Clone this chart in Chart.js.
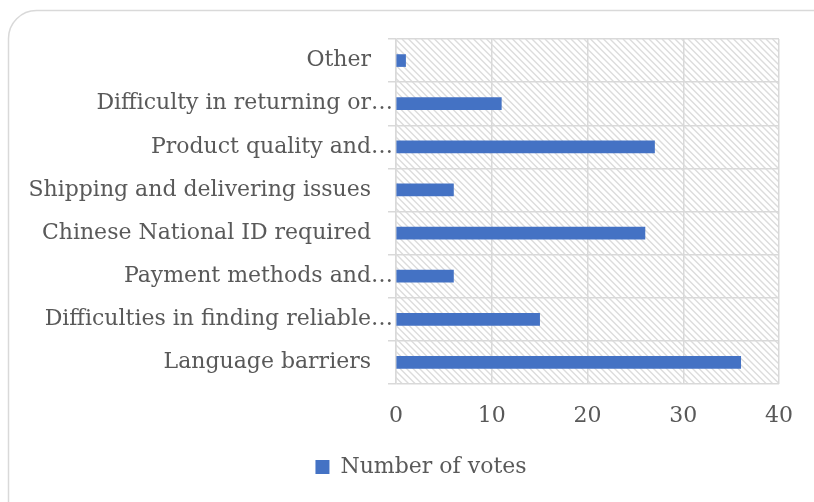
<!DOCTYPE html>
<html lang="en">
<head>
  <meta charset="UTF-8">
  <title>Number of votes</title>
  <script src="https://cdn.jsdelivr.net/npm/chart.js@4.4.0"></script>
  <style>
    html, body { margin: 0; padding: 0; background: #fff; }
    #wrap { width: 814px; height: 502px; position: relative; }
  </style>
</head>
<body>
  <div id="wrap"><canvas id="myChart"></canvas></div>
  <script>
    // categories, bottom to top
    const categories = [
      'Language barriers',
      'Difficulties in finding reliable…',
      'Payment methods and…',
      'Chinese National ID required',
      'Shipping and delivering issues',
      'Product quality and…',
      'Difficulty in returning or…',
      'Other'
    ];
    const votes = [36, 15, 6, 26, 6, 27, 11, 1];
    const xTicks = [0, 10, 20, 30, 40];

    const FONT = "'DejaVu Serif', serif";
    const TEXT = '#595959';
    const GRID = '#d9d9d9';

    // rounded frame + diagonal hatch behind the plot area
    const backdrop = {
      id: 'backdrop',
      beforeDraw(chart) {
        const c = chart.ctx;
        const a = chart.chartArea;

        // centre the legend on the whole frame, not on the padded area
        if (chart.legend) {
          chart.legend.left = 8;
          chart.legend.right = 834;
        }

        c.save();
        c.fillStyle = '#fff';
        c.fillRect(0, 0, chart.width, chart.height);
        c.beginPath();
        c.roundRect(8.5, 10.5, 840, 520, 28);
        c.strokeStyle = GRID;
        c.lineWidth = 1.5;
        c.stroke();

        c.beginPath();
        c.rect(a.left, a.top, a.right - a.left, a.bottom - a.top);
        c.clip();
        c.strokeStyle = '#dcdcdc';
        c.lineWidth = 1.4;
        const h = a.bottom - a.top;
        c.beginPath();
        for (let x = a.left - h; x < a.right; x += 6.5) {
          c.moveTo(x, a.top);
          c.lineTo(x + h, a.bottom);
        }
        c.stroke();
        c.restore();
      }
    };

    const ctx = document.getElementById('myChart').getContext('2d');
    new Chart(ctx, {
      type: 'bar',
      data: {
        labels: categories,
        datasets: [{
          label: 'Number of votes',
          data: votes,
          backgroundColor: '#4472C4',
          borderWidth: 0,
          barThickness: 12
        }]
      },
      options: {
        indexAxis: 'y',
        responsive: true,
        maintainAspectRatio: false,
        animation: false,
        layout: { padding: { left: 10, right: 35, top: 39, bottom: 14 } },
        plugins: {
          tooltip: { enabled: false },
          legend: {
            position: 'bottom',
            labels: {
              color: TEXT,
              font: { family: FONT, size: 22 },
              boxWidth: 14,
              boxHeight: 14,
              padding: 10
            }
          }
        },
        scales: {
          x: {
            min: 0,
            max: 40,
            afterBuildTicks(scale) { scale.ticks = xTicks.map(v => ({ value: v })); },
            afterFit(scale) { scale.height = 62; },
            grid: { color: GRID, lineWidth: 1.5, drawTicks: false },
            border: { display: false },
            ticks: { color: TEXT, font: { family: FONT, size: 22 }, padding: 19 }
          },
          y: {
            reverse: true,
            afterFit(scale) { scale.width = 386; },
            grid: { color: GRID, lineWidth: 1.5, tickLength: 8, offset: true },
            border: { color: GRID, width: 1.5 },
            ticks: {
              color: TEXT,
              font: { family: FONT, size: 22 },
              padding: -5,
              callback(v) {
                const s = this.getLabelForValue(v);
                return s.endsWith('…') ? s : s + '\u2003';
              }
            }
          }
        }
      },
      plugins: [backdrop]
    });
  </script>
</body>
</html>
